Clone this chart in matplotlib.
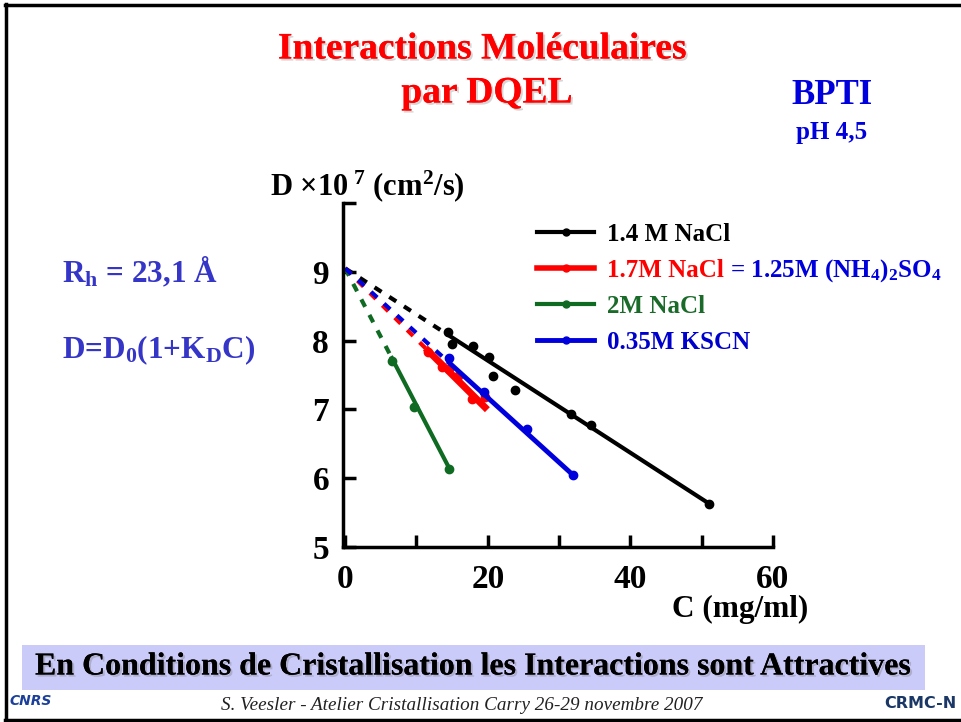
import matplotlib
matplotlib.use("Agg")
import matplotlib.pyplot as plt
import matplotlib.patheffects as pe
from matplotlib.lines import Line2D
from matplotlib.patches import Rectangle
import numpy as np

plt.rcParams['font.family'] = ['Liberation Serif', 'DejaVu Serif']
plt.rcParams['font.weight'] = 'bold'
plt.rcParams['mathtext.fontset'] = 'custom'
plt.rcParams['mathtext.rm'] = 'Liberation Serif:bold'
plt.rcParams['mathtext.bf'] = 'Liberation Serif:bold'
plt.rcParams['mathtext.it'] = 'Liberation Serif:bold'
plt.rcParams['mathtext.default'] = 'rm'

# Diffusion coefficient (x 1e7 cm^2/s) vs protein concentration (mg/ml)
D0 = 9.05
labels = ["1.4 M NaCl", "1.7M NaCl", "2M NaCl", "0.35M KSCN"]
colors = ["#000000", "#ff0000", "#0f6a22", "#0000dd"]
text_colors = ["#000000", "#ff0000", "#1a6b2a", "#0000cc"]
widths = [3.0, 5.0, 3.0, 3.5]

C_nacl14 = [14.4, 15.0, 17.9, 20.2, 20.7, 23.8, 31.7, 34.5, 51.0]
D_nacl14 = [8.13, 7.95, 7.92, 7.76, 7.48, 7.28, 6.94, 6.77, 5.63]
C_nacl17 = [11.6, 13.6, 14.6, 15.8, 17.8, 19.6]
D_nacl17 = [7.84, 7.62, 7.59, 7.49, 7.15, 7.18]
C_nacl20 = [6.55, 9.6, 14.6]
D_nacl20 = [7.70, 7.03, 6.14]
C_kscn = [14.6, 19.5, 25.5, 31.9]
D_kscn = [7.75, 7.26, 6.71, 6.05]

# slopes dD/dC of the linear fits D = D0 (1 + K_D C)
slopes = [-0.067, -0.103, -0.199, -0.094]

series = [(C_nacl14, D_nacl14), (C_nacl17, D_nacl17),
          (C_nacl20, D_nacl20), (C_kscn, D_kscn)]

W, H = 962, 722
fig = plt.figure(figsize=(W / 100, H / 100), dpi=100)


def fx(px):
    return px / W


def fy(py):
    return 1 - py / H


ax = fig.add_axes([fx(343), fy(547), fx(773) - fx(343), fy(203) - fy(547)])

handles = []
for (C, D), s, col, lw, lab in zip(series, slopes, colors, widths, labels):
    c_fit = np.array([C[0], C[-1]])
    ax.plot([0, C[0]], [D0, D0 + s * C[0]], color=col, lw=3,
            linestyle=(0, (2, 2.2)), solid_capstyle='butt')
    ax.plot(c_fit, D0 + s * c_fit, color=col, lw=lw)
    ax.plot(C, D, 'o', color=col, ms=6)
    handles.append(Line2D([], [], color=col, lw=min(lw, 4), marker='o', ms=5))

ax.set_xlim(-0.3, 60)
ax.set_ylim(5, 10)
ax.set_xticks([0, 20, 40, 60])
ax.set_xticks([10, 30, 50], minor=True)
ax.set_yticks([5, 6, 7, 8, 9, 10])
ax.set_yticklabels(["5", "6", "7", "8", "9", ""])
for sp in ['top', 'right']:
    ax.spines[sp].set_visible(False)
for sp in ['left', 'bottom']:
    ax.spines[sp].set_linewidth(2.5)
ax.tick_params(axis='both', which='both', direction='in', length=9,
               width=2.5, labelsize=24)
ax.tick_params(axis='x', pad=12)
ax.tick_params(axis='y', pad=10)
ax.patch.set_alpha(0)

leg = ax.legend(handles, labels, loc='upper left',
                bbox_to_anchor=(fx(537), fy(223)), bbox_transform=fig.transFigure,
                frameon=False, fontsize=18, handlelength=2.3,
                handletextpad=0.5, labelspacing=0.52, borderaxespad=0,
                borderpad=0)
for t, c in zip(leg.get_texts(), text_colors):
    t.set_color(c)
    t.set_fontweight('bold')

# blue continuation of the second legend entry, on the same baseline
fig.canvas.draw()
renderer = fig.canvas.get_renderer()
red_txt = leg.get_texts()[1]
bb = red_txt.get_window_extent(renderer)
fp = red_txt.get_fontproperties()
_, _, d_txt = renderer.get_text_width_height_descent(red_txt.get_text(), fp, ismath=False)
_, _, d_lp = renderer.get_text_width_height_descent("lp", fp, ismath=False)
baseline = bb.y0 + max(d_txt, d_lp)
fig.text(bb.x1 / W, baseline / H, " = 1.25M (NH$_4$)$_2$SO$_4$",
         fontsize=18, color="#0000dd", fontweight='bold',
         ha='left', va='baseline')

# axis titles
fig.text(fx(270), fy(186), r"D ×10$^{\ 7}$ (cm$^2$/s)", fontsize=22,
         ha='left', va='center')
fig.text(fx(740), fy(609), "C (mg/ml)", fontsize=22.5, ha='center', va='center')

# slide headings
shadow = [pe.withSimplePatchShadow(offset=(1.5, -1.5), shadow_rgbFace='#c4c4c4',
                                   alpha=0.7), pe.Normal()]
fig.text(fx(482), fy(49), "Interactions Moléculaires", fontsize=27,
         color='#ff0000', ha='center', va='center', path_effects=shadow)
fig.text(fx(487), fy(93), "par DQEL", fontsize=27, color='#ff0000',
         ha='center', va='center', path_effects=shadow)
fig.text(fx(832), fy(95), "BPTI", fontsize=25, color='#0000dd',
         ha='center', va='center')
fig.text(fx(832), fy(132), "pH 4,5", fontsize=18, color='#0000dd',
         ha='center', va='center')

fig.text(fx(62), fy(272), r"R$_\mathrm{h}$ = 23,1 Å", fontsize=22.5,
         color='#3535c8', ha='left', va='center')
fig.text(fx(62), fy(350), r"D=D$_0$(1+K$_\mathrm{D}$C)", fontsize=22.5,
         color='#3535c8', ha='left', va='center')

# banner
fig.patches.append(Rectangle((fx(22), fy(690)), fx(925) - fx(22),
                             fy(645) - fy(690), transform=fig.transFigure,
                             facecolor='#cbcbfa', edgecolor='none', zorder=0))
fig.text(fx(474), fy(667),
         "En Conditions de Cristallisation les Interactions sont Attractives",
         fontsize=23, color='black', ha='center', va='center',
         path_effects=[pe.withSimplePatchShadow(offset=(1.5, -1.5),
                                                shadow_rgbFace='#9090a0',
                                                alpha=0.5), pe.Normal()])
fig.text(fx(462), fy(706),
         "S. Veesler - Atelier Cristallisation Carry 26-29 novembre 2007",
         fontsize=13.8, style='italic', fontweight='normal', color='#222222',
         ha='center', va='center')

# logos
fig.text(fx(10), fy(701), "CNRS", fontsize=10, color='#1b3f9a', style='italic',
         family='DejaVu Sans', fontweight='bold', ha='left', va='center')
fig.text(fx(957), fy(703), "CRMC-N", fontsize=11.5, color='#1a3766',
         family='DejaVu Sans', fontweight='bold', ha='right', va='center')

# slide frame
for xs, ys in [((5, W), (4.5, 4.5)), ((5.5, 5.5), (4, 720)), ((5, W), (719.5, 719.5))]:
    fig.lines.append(Line2D([fx(x) for x in xs], [fy(y) for y in ys],
                            transform=fig.transFigure, color='black', lw=2.5))

fig.savefig("out.png", dpi=100)
